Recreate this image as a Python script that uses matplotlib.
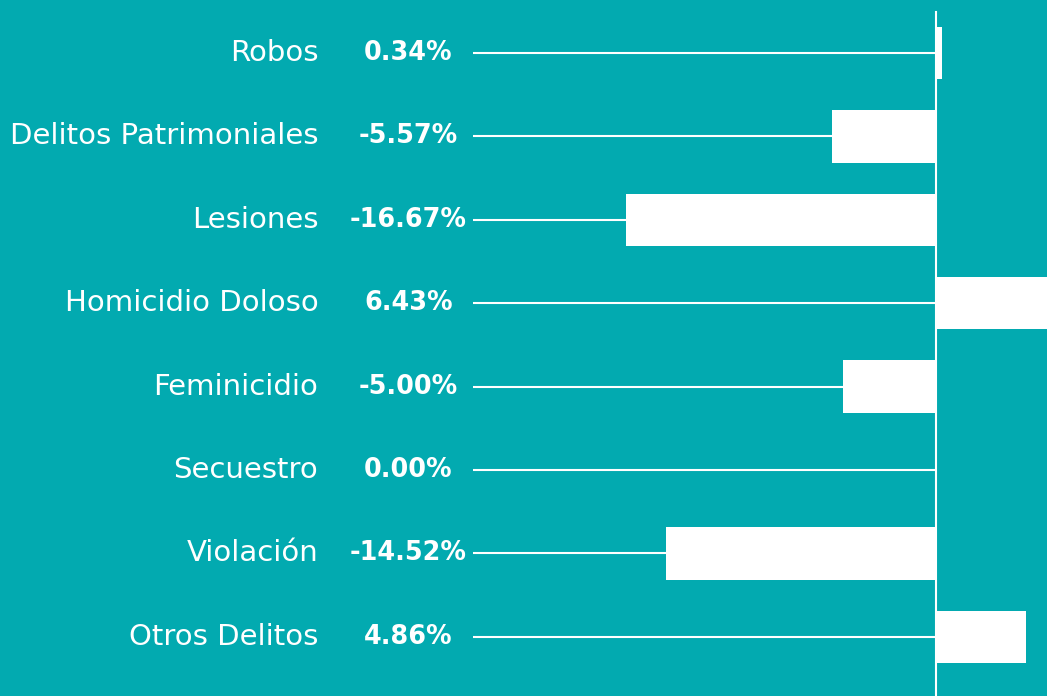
import matplotlib
matplotlib.use('Agg')
import matplotlib.pyplot as plt
import matplotlib.transforms as mtransforms

# Variación porcentual por tipo de delito
categorias = ['Robos', 'Delitos Patrimoniales', 'Lesiones', 'Homicidio Doloso',
              'Feminicidio', 'Secuestro', 'Violación', 'Otros Delitos']
variacion = [0.34, -5.57, -16.67, 6.43, -5.00, 0.00, -14.52, 4.86]

fondo = '#02AAB0'
blanco = '#FFFFFF'

plt.rcParams['font.family'] = ['DejaVu Sans']

fig = plt.figure(figsize=(10.47, 6.96), dpi=100)
fig.patch.set_facecolor(fondo)
ax = fig.add_axes([0, 0, 1, 1])
ax.set_facecolor(fondo)

xmin, xmax = -50.32, 5.97
ax.set_xlim(xmin, xmax)
ax.set_ylim(7.71, -0.6355)

filas = list(range(len(categorias)))

# barras que salen del eje cero
ax.barh(filas, variacion, height=0.63, color=blanco, zorder=3)

# eje cero vertical
ax.plot([0, 0], [-0.487, 7.71], color=blanco, lw=1.5, zorder=4)

# guías horizontales desde las etiquetas hasta el eje cero
inicio_guia = xmin + 0.4518 * (xmax - xmin)
ax.hlines(filas, inicio_guia, 0, color=blanco, lw=1.5, zorder=2)

# etiquetas de categoría y porcentaje
trans = mtransforms.blended_transform_factory(ax.transAxes, ax.transData)
for y, cat, v in zip(filas, categorias, variacion):
    ax.text(0.304, y, cat, transform=trans, ha='right', va='center',
            color=blanco, fontsize=21)
    ax.text(0.39, y, f'{v:.2f}%', transform=trans, ha='center', va='center',
            color=blanco, fontsize=18.4, fontweight='bold')

ax.axis('off')

fig.savefig('out.png', dpi=100, facecolor=fondo)
